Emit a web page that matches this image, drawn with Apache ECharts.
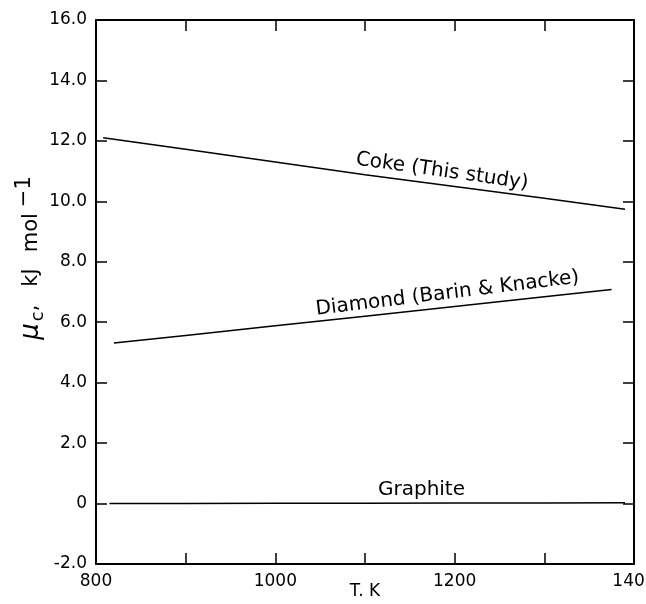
<!DOCTYPE html>
<html>
<head>
<meta charset="utf-8">
<script src="https://cdn.jsdelivr.net/npm/echarts@6/dist/echarts.min.js"></script>
<style>html,body{margin:0;padding:0;background:#fff}#c{width:646px;height:604px}</style>
</head>
<body>
<div id="c"></div>
<script>
// Data (T in K, mu_c in kJ/mol)
var cokeT = [808, 900, 1000, 1100, 1200, 1300, 1390];
var cokeV = [12.10, 11.72, 11.30, 10.88, 10.49, 10.10, 9.74];
var diamondT = [820, 900, 1000, 1100, 1200, 1300, 1375];
var diamondV = [5.31, 5.56, 5.88, 6.20, 6.52, 6.84, 7.08];
var graphiteT = [815, 900, 1000, 1100, 1200, 1300, 1390];
var graphiteV = [0.00, 0.00, 0.01, 0.01, 0.02, 0.02, 0.03];
var xTicks = [800, 1000, 1200, 1400];
var yTicks = [-2, 0, 2, 4, 6, 8, 10, 12, 14, 16];
var labels = [
  {text: 'Coke (This study)', at: [1186, 10.99], rot: -8},
  {text: 'Diamond (Barin & Knacke)', at: [1192, 6.95], rot: 7},
  {text: 'Graphite', at: [1163, 0.45], rot: 0}
];

function pairs(xs, ys) { return xs.map(function (x, i) { return [x, ys[i]]; }); }

var FONT = 'DejaVu Sans';
var chart = echarts.init(document.getElementById('c'), null, {renderer: 'canvas'});
var axisLine = {show: true, onZero: false, lineStyle: {color: '#000', width: 2}};
var tick = {show: true, inside: true, length: 11, lineStyle: {color: '#000', width: 1.5}};

var option = {
  backgroundColor: '#fff',
  animation: false,
  grid: {left: 96, right: 12, top: 20, bottom: 40, outerBoundsMode: 'none'},
  xAxis: [{
    type: 'value', position: 'bottom', min: 800, max: 1400, interval: 100,
    axisLine: axisLine, axisTick: tick, splitLine: {show: false},
    axisLabel: {
      color: '#000', fontFamily: FONT, fontSize: 17, margin: 9,
      formatter: function (v) { return xTicks.indexOf(v) >= 0 ? String(v) : ''; }
    },
    name: 'T. K', nameLocation: 'middle', nameGap: 19, nameMoveOverlap: false,
    nameTextStyle: {color: '#000', fontFamily: FONT, fontSize: 17}
  }, {
    type: 'value', position: 'top', min: 800, max: 1400, interval: 100,
    axisLine: axisLine, axisTick: tick, axisLabel: {show: false}, splitLine: {show: false}
  }],
  yAxis: [{
    type: 'value', position: 'left', min: -2, max: 16, interval: 2,
    axisLine: axisLine, axisTick: tick, splitLine: {show: false},
    axisLabel: {
      color: '#000', fontFamily: FONT, fontSize: 17, margin: 9,
      formatter: function (v) { return v === 0 ? '0' : v.toFixed(1); }
    },
    name: '{mu|μ}{sub|c}{t|,}{w1|kJ}{w2|mol}{sup|−1}',
    nameLocation: 'middle', nameGap: 47, nameMoveOverlap: false,
    nameTextStyle: {
      color: '#000', fontFamily: FONT, fontSize: 21, padding: [0, 0, 0, 68],
      rich: {
        mu: {fontFamily: FONT, fontSize: 26, fontStyle: 'italic', color: '#000'},
        sub: {fontFamily: FONT, fontSize: 18, color: '#000', padding: [14, 0, 0, 2]},
        t: {fontFamily: FONT, fontSize: 21, color: '#000'},
        w1: {fontFamily: FONT, fontSize: 21, color: '#000', padding: [0, 0, 0, 18]},
        w2: {fontFamily: FONT, fontSize: 21, color: '#000', padding: [0, 0, 0, 16]},
        sup: {fontFamily: FONT, fontSize: 21, color: '#000', padding: [0, 0, 14, 6]}
      }
    }
  }, {
    type: 'value', position: 'right', min: -2, max: 16, interval: 2,
    axisLine: axisLine, axisTick: tick, axisLabel: {show: false}, splitLine: {show: false}
  }],
  series: [
    {name: 'Coke', type: 'line', data: pairs(cokeT, cokeV), showSymbol: false,
     lineStyle: {color: '#000', width: 1.5}},
    {name: 'Diamond', type: 'line', data: pairs(diamondT, diamondV), showSymbol: false,
     lineStyle: {color: '#000', width: 1.5}},
    {name: 'Graphite', type: 'line', data: pairs(graphiteT, graphiteV), showSymbol: false,
     lineStyle: {color: '#000', width: 1.5}}
  ]
};
chart.setOption(option);

var g = labels.map(function (l) {
  var p = chart.convertToPixel({gridIndex: 0}, l.at);
  return {
    type: 'text', x: p[0], y: p[1], rotation: l.rot * Math.PI / 180,
    style: {text: l.text, fill: '#000', font: '20px "DejaVu Sans"', textAlign: 'center', textVerticalAlign: 'middle'}
  };
});
chart.setOption({graphic: g});
</script>
</body>
</html>
